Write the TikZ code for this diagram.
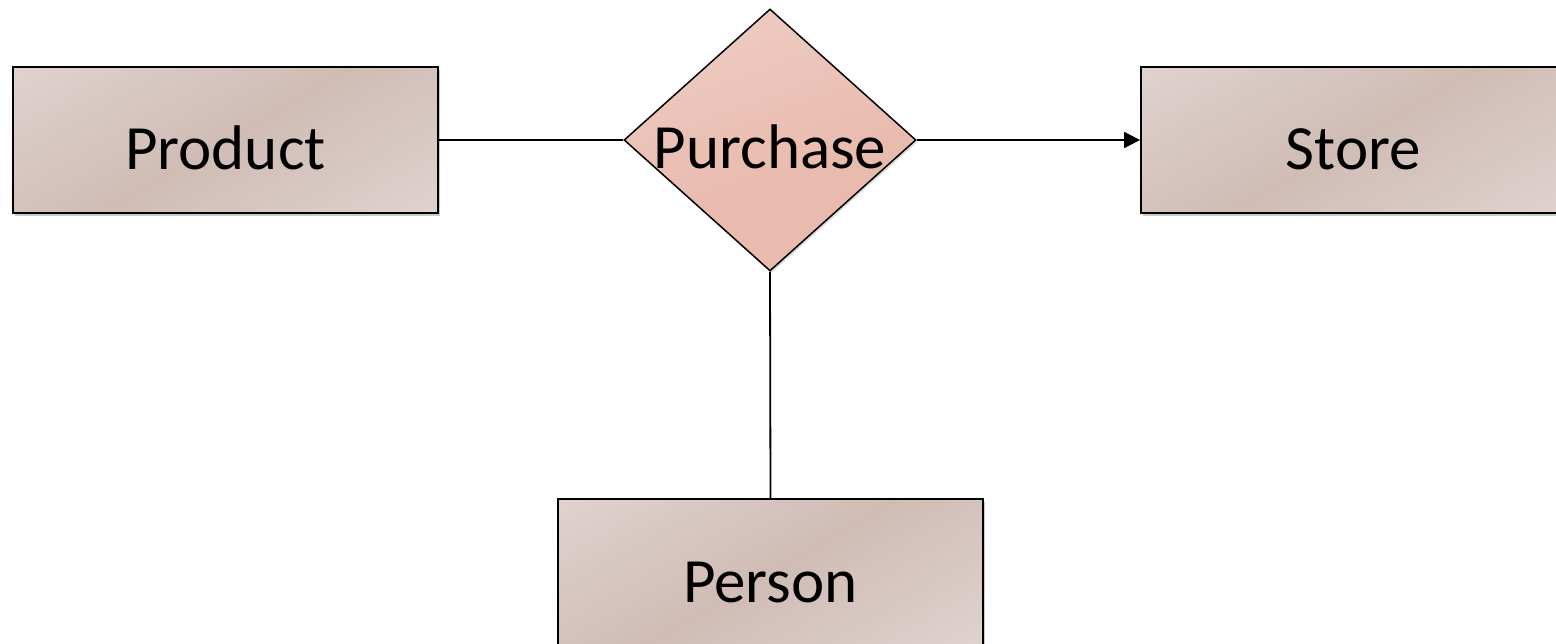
\documentclass[tikz,border=0pt]{standalone}
\usepackage{fontspec}
\setmainfont{Carlito}
\usetikzlibrary{shapes.geometric,shadows,arrows.meta}
\definecolor{entlight}{HTML}{E1D6D4}
\definecolor{entdark}{HTML}{D0BCB5}
\definecolor{rellight}{HTML}{EECBC1}
\definecolor{reldark}{HTML}{E9BAAE}
\pgfdeclarehorizontalshading{entgrad}{100bp}{color(0bp)=(entlight); color(10bp)=(entlight); color(50bp)=(entdark); color(90bp)=(entlight); color(100bp)=(entlight)}
\pgfdeclarehorizontalshading{relgrad}{100bp}{color(0bp)=(rellight); color(25bp)=(rellight); color(60bp)=(reldark); color(100bp)=(reldark)}
\tikzset{
  entity/.style={draw=black, line width=1.8pt, rectangle, minimum width=425pt, minimum height=146pt,
    shading=entgrad, shading angle=-60, inner sep=0pt, text height=60pt, text depth=0pt,
    drop shadow={shadow xshift=2pt, shadow yshift=-3pt, opacity=0.35, fill=black!60},
    font=\fontsize{63}{70}\selectfont},
  relation/.style={draw=black, line width=1.5pt, diamond, aspect=1.1145, minimum width=292pt, minimum height=262pt,
    shading=relgrad, shading angle=-70, inner sep=0pt,
    drop shadow={shadow xshift=1.5pt, shadow yshift=-2pt, opacity=0.25, fill=black!60}},
  label/.style={font=\fontsize{63}{70}\selectfont, inner sep=0pt, text height=60pt, text depth=0pt},
  link/.style={draw=black, line width=1.8pt},
  arrowlink/.style={link, -{Triangle[length=16pt,width=16pt]}}
}
\begin{document}
\begin{tikzpicture}[x=1pt,y=-1pt]
\useasboundingbox (0,0) rectangle (1556,644);
\clip (0,0) rectangle (1556,644);
\node[entity] (product) at (225.5,140) {Product};
\node[entity] (store) at (1353.5,140) {Store};
\node[entity] (person) at (770.5,572) {Person};
\node[relation] (purchase) at (770,140) {};
\node[label] (purchaselabel) at (770,139) {Purchase};
\draw[link] (product.east) -- (purchase.west);
\draw[arrowlink] (purchase.east) -- (store.west);
\draw[link] (purchase.south) -- (person.north);
\end{tikzpicture}
\end{document}
